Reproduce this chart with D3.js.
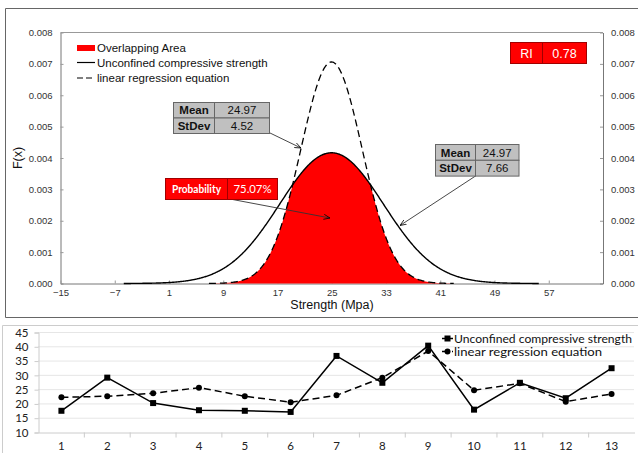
<!DOCTYPE html>
<html>
<head>
<meta charset="utf-8">
<script src="https://cdn.jsdelivr.net/npm/d3@7"></script>
<style>
  html, body { margin: 0; padding: 0; background: #fff; }
  svg { display: block; }
</style>
</head>
<body>
<svg id="chart" width="638" height="453"></svg>
<script>
// ---- Distribution panel data ----
const seriesNames = ["Unconfined compressive strength", "linear regression equation"];
const means = [24.97, 24.97];
const stdevs = [7.66, 4.52];
const densityScale = 0.08;          // F(x) = densityScale * normal pdf
const overlapLabel = "75.07%";
const riValue = "0.78";
const xTicks = [-15, -7, 1, 9, 17, 25, 33, 41, 49, 57];
const yTicks = [0, 0.001, 0.002, 0.003, 0.004, 0.005, 0.006, 0.007, 0.008];

// ---- Sample panel data ----
const samples = [1, 2, 3, 4, 5, 6, 7, 8, 9, 10, 11, 12, 13];
const measured = [17.6, 29.2, 20.3, 17.8, 17.6, 17.2, 36.8, 27.4, 40.4, 18.0, 27.4, 22.0, 32.5];
const predicted = [22.3, 22.7, 23.7, 25.7, 22.7, 20.6, 23.0, 29.2, 38.5, 24.8, 27.2, 20.8, 23.5];
const sampleYTicks = [10, 15, 20, 25, 30, 35, 40, 45];

const ARIAL = "'Liberation Sans', Arial, sans-serif";
const CALIBRI = "Lato, 'Open Sans', sans-serif";

const svg = d3.select("#chart");

// ================= Top panel: normal distribution overlap =================
const distG = svg.append("g");
distG.append("path")
  .attr("d", "M638,8.5 H5.5 V317.5 H638")
  .attr("fill", "none").attr("stroke", "#666").attr("stroke-width", 1);

const x = d3.scaleLinear().domain([-15, 65]).range([60.5, 603]);
const y = d3.scaleLinear().domain([0, 0.008]).range([283.5, 32.5]);

const pdf = (v, m, s) => densityScale * Math.exp(-0.5 * ((v - m) / s) ** 2) / (s * Math.sqrt(2 * Math.PI));
const curvePoints = (m, s) => d3.range(m - 4 * s, m + 4 * s + 1e-9, 0.1).map(v => [v, pdf(v, m, s)]);

const solidPts = curvePoints(means[0], stdevs[0]);
const dashedPts = curvePoints(means[1], stdevs[1]);
const overlapPts = dashedPts.map(([v]) => [v, Math.min(pdf(v, means[0], stdevs[0]), pdf(v, means[1], stdevs[1]))]);

// plot frame top edge
distG.append("line").attr("x1", x.range()[0]).attr("x2", x.range()[1])
  .attr("y1", 32.5).attr("y2", 32.5).attr("stroke", "#999");

// axes
const axL = d3.axisLeft(y).tickValues(yTicks).tickFormat(d3.format(".3f")).tickSizeInner(-3).tickSizeOuter(0).tickPadding(8);
const axR = d3.axisRight(y).tickValues(yTicks).tickFormat(d3.format(".3f")).tickSizeInner(-3).tickSizeOuter(0).tickPadding(8);
const axB = d3.axisBottom(x).tickValues(xTicks).tickFormat(d3.format("d")).tickSizeInner(-3).tickSizeOuter(0).tickPadding(6);

function styleAxis(g) {
  g.selectAll("path").attr("stroke", "#777");
  g.selectAll("line").attr("stroke", "#999");
  g.selectAll("text").attr("fill", "#333").style("font-family", ARIAL).style("font-size", "9.5px");
}
distG.append("g").attr("transform", `translate(${x.range()[0]},0)`).call(axL).call(styleAxis);
distG.append("g").attr("transform", `translate(${x.range()[1]},0)`).call(axR).call(styleAxis);
distG.append("g").attr("transform", `translate(0,${y(0)})`).call(axB).call(styleAxis);

// axis titles
distG.append("text").attr("transform", "translate(22,158) rotate(-90)")
  .attr("text-anchor", "middle").style("font-family", ARIAL)
  .style("font-size", "12.5px").attr("fill", "#111").text("F(x)");
distG.append("text").attr("x", 332).attr("y", 309)
  .attr("text-anchor", "middle").style("font-family", ARIAL)
  .style("font-size", "12.5px").attr("fill", "#111").text("Strength (Mpa)");

// overlap area and curves
const line = d3.line().x(d => x(d[0])).y(d => y(d[1]));
const area = d3.area().x(d => x(d[0])).y0(y(0)).y1(d => y(d[1]));
distG.append("path").datum(overlapPts).attr("d", area).attr("fill", "#ff0000");
distG.append("path").datum(solidPts).attr("d", line).attr("fill", "none")
  .attr("stroke", "#000").attr("stroke-width", 1.4);
distG.append("path").datum(dashedPts).attr("d", line).attr("fill", "none")
  .attr("stroke", "#000").attr("stroke-width", 1.3).attr("stroke-dasharray", "7,4");

// legend
const leg = distG.append("g").style("font-family", ARIAL).style("font-size", "11.5px");
leg.append("rect").attr("x", 77).attr("y", 45).attr("width", 18).attr("height", 6).attr("fill", "#ff0000");
leg.append("line").attr("x1", 77).attr("x2", 95).attr("y1", 62.5).attr("y2", 62.5).attr("stroke", "#000").attr("stroke-width", 1.2);
leg.append("line").attr("x1", 77).attr("x2", 95).attr("y1", 78).attr("y2", 78).attr("stroke", "#000").attr("stroke-width", 1.2).attr("stroke-dasharray", "6,3");
["Overlapping Area", seriesNames[0], seriesNames[1]].forEach((t, i) => {
  leg.append("text").attr("x", 97).attr("y", 48 + i * 15.2).attr("dy", "0.35em").attr("fill", "#111").text(t);
});

// arrow marker
svg.append("defs").append("marker").attr("id", "arrow")
  .attr("viewBox", "0 0 10 10").attr("refX", 10).attr("refY", 5)
  .attr("markerWidth", 7).attr("markerHeight", 7).attr("orient", "auto")
  .append("path").attr("d", "M0,1 L10,5 L0,9").attr("fill", "none").attr("stroke", "#000").attr("stroke-width", 1.2);

// two-column info boxes
function infoBox(g, bx, by, w1, w2, rowH, rows, opts) {
  rows.forEach((r, i) => {
    const yy = by + i * rowH;
    g.append("rect").attr("x", bx).attr("y", yy).attr("width", w1).attr("height", rowH)
      .attr("fill", opts.fill).attr("stroke", opts.stroke);
    g.append("rect").attr("x", bx + w1).attr("y", yy).attr("width", w2).attr("height", rowH)
      .attr("fill", opts.fill).attr("stroke", opts.stroke);
    const t1 = g.append("text").attr("x", bx + w1 / 2).attr("y", yy + rowH / 2).attr("dy", "0.36em")
      .attr("text-anchor", "middle").attr("fill", opts.color)
      .style("font-family", opts.font1).style("font-weight", "bold").style("font-size", opts.size).text(r[0]);
    const t2 = g.append("text").attr("x", bx + w1 + w2 / 2).attr("y", yy + rowH / 2).attr("dy", "0.36em")
      .attr("text-anchor", "middle").attr("fill", opts.color)
      .style("font-family", opts.font2).style("font-size", opts.size).text(r[1]);
    if (opts.len1) t1.attr("textLength", opts.len1).attr("lengthAdjust", "spacingAndGlyphs");
    if (opts.len2) t2.attr("textLength", opts.len2).attr("lengthAdjust", "spacingAndGlyphs");
  });
}
const greyOpts = { fill: "#c0c0c0", stroke: "#666", color: "#111", font1: ARIAL, font2: ARIAL, size: "11.5px" };

// narrow-curve stats (dashed)
distG.append("line").attr("x1", 269).attr("y1", 132.5).attr("x2", 301).attr("y2", 148)
  .attr("stroke", "#333").attr("stroke-width", 0.9).attr("marker-end", "url(#arrow)");
infoBox(distG, 173.5, 102.5, 41, 55, 15.5, [["Mean", means[1].toFixed(2)], ["StDev", stdevs[1].toFixed(2)]], greyOpts);

// wide-curve stats (solid)
distG.append("line").attr("x1", 475.5).attr("y1", 176).attr("x2", 400).attr("y2", 225.5)
  .attr("stroke", "#333").attr("stroke-width", 0.9).attr("marker-end", "url(#arrow)");
infoBox(distG, 435.5, 144.5, 40, 43.5, 15.8, [["Mean", means[0].toFixed(2)], ["StDev", stdevs[0].toFixed(2)]], greyOpts);

// overlap probability
distG.append("line").attr("x1", 230).attr("y1", 199).attr("x2", 330).attr("y2", 218)
  .attr("stroke", "#333").attr("stroke-width", 0.9).attr("marker-end", "url(#arrow)");
infoBox(distG, 165.5, 178.5, 62, 50, 21, [["Probability", overlapLabel]],
  { fill: "#ff0000", stroke: "#a00000", color: "#fff", font1: CALIBRI, font2: CALIBRI, size: "12px", len1: 49, len2: 38 });

// RI index
const riG = distG.append("g");
riG.append("rect").attr("x", 510.5).attr("y", 42.5).attr("width", 32).attr("height", 21).attr("fill", "#ff0000").attr("stroke", "#a00000");
riG.append("rect").attr("x", 542.5).attr("y", 42.5).attr("width", 44).attr("height", 21).attr("fill", "#ff0000").attr("stroke", "#a00000");
riG.append("text").attr("x", 526.5).attr("y", 53).attr("dy", "0.36em").attr("text-anchor", "middle").attr("fill", "#fff")
  .style("font-family", ARIAL).style("font-size", "12.5px").text("RI");
riG.append("text").attr("x", 564.5).attr("y", 53).attr("dy", "0.36em").attr("text-anchor", "middle").attr("fill", "#fff")
  .style("font-family", ARIAL).style("font-size", "12.5px").text(riValue);

// ================= Bottom panel: sample comparison =================
const bot = svg.append("g");
bot.append("path").attr("d", "M638,325.5 H2.5 V453")
  .attr("fill", "none").attr("stroke", "#ccc");

const xb = d3.scaleBand().domain(samples).range([38.5, 634.5]);
const yb = d3.scaleLinear().domain([10, 45]).range([432.5, 332.5]);
const cx = d => xb(d) + xb.bandwidth() / 2;

// gridlines
bot.selectAll("line.grid").data(sampleYTicks.slice(1)).join("line")
  .attr("x1", 38.5).attr("x2", 634.5).attr("y1", d => yb(d)).attr("y2", d => yb(d))
  .attr("stroke", "#ccc").attr("stroke-dasharray", "1,1");

// axes
const byAxis = d3.axisLeft(yb).tickValues(sampleYTicks).tickSize(4).tickPadding(6);
const bxAxis = d3.axisBottom(xb).tickSize(0).tickPadding(9);
const gy = bot.append("g").attr("transform", "translate(38.5,0)").call(byAxis);
gy.select(".domain").attr("stroke", "#ccc");
gy.selectAll(".tick line").attr("stroke", "#ccc");
const gx = bot.append("g").attr("transform", `translate(0,${yb(10)})`).call(bxAxis);
gx.select(".domain").attr("stroke", "#ccc");
// category separators on the x axis
bot.selectAll("line.sep").data(samples.slice(1)).join("line")
  .attr("x1", d => xb(d)).attr("x2", d => xb(d)).attr("y1", yb(10)).attr("y2", yb(10) + 5)
  .attr("stroke", "#ccc");
bot.selectAll(".tick text").attr("fill", "#222")
  .style("font-family", CALIBRI).style("font-size", "11.5px");

// series
const bline = d3.line().x((d, i) => cx(samples[i])).y(d => yb(d));
bot.append("path").datum(predicted).attr("d", bline).attr("fill", "none")
  .attr("stroke", "#000").attr("stroke-width", 1.5).attr("stroke-dasharray", "7,4");
bot.append("path").datum(measured).attr("d", bline).attr("fill", "none")
  .attr("stroke", "#000").attr("stroke-width", 1.5);
bot.selectAll("rect.m").data(measured).join("rect")
  .attr("x", (d, i) => cx(samples[i]) - 3).attr("y", d => yb(d) - 3)
  .attr("width", 6).attr("height", 6).attr("fill", "#000");
bot.selectAll("circle.p").data(predicted).join("circle")
  .attr("cx", (d, i) => cx(samples[i])).attr("cy", d => yb(d)).attr("r", 3).attr("fill", "#000");

// legend
const bl = bot.append("g").style("font-family", CALIBRI).style("font-size", "11.5px");
bl.append("line").attr("x1", 442).attr("x2", 453).attr("y1", 338.5).attr("y2", 338.5).attr("stroke", "#000").attr("stroke-width", 1.5);
bl.append("rect").attr("x", 444.5).attr("y", 335.5).attr("width", 6).attr("height", 6).attr("fill", "#000");
bl.append("line").attr("x1", 442).attr("x2", 453).attr("y1", 351.5).attr("y2", 351.5).attr("stroke", "#000").attr("stroke-width", 1.5).attr("stroke-dasharray", "3,2");
bl.append("circle").attr("cx", 447.5).attr("cy", 351.5).attr("r", 3).attr("fill", "#000");
const legLens = [178, 148];
seriesNames.forEach((t, i) => {
  bl.append("text").attr("x", 454).attr("y", 338.5 + i * 13).attr("dy", "0.35em").attr("fill", "#111")
    .attr("textLength", legLens[i]).attr("lengthAdjust", "spacingAndGlyphs").text(t);
});
</script>
</body>
</html>
